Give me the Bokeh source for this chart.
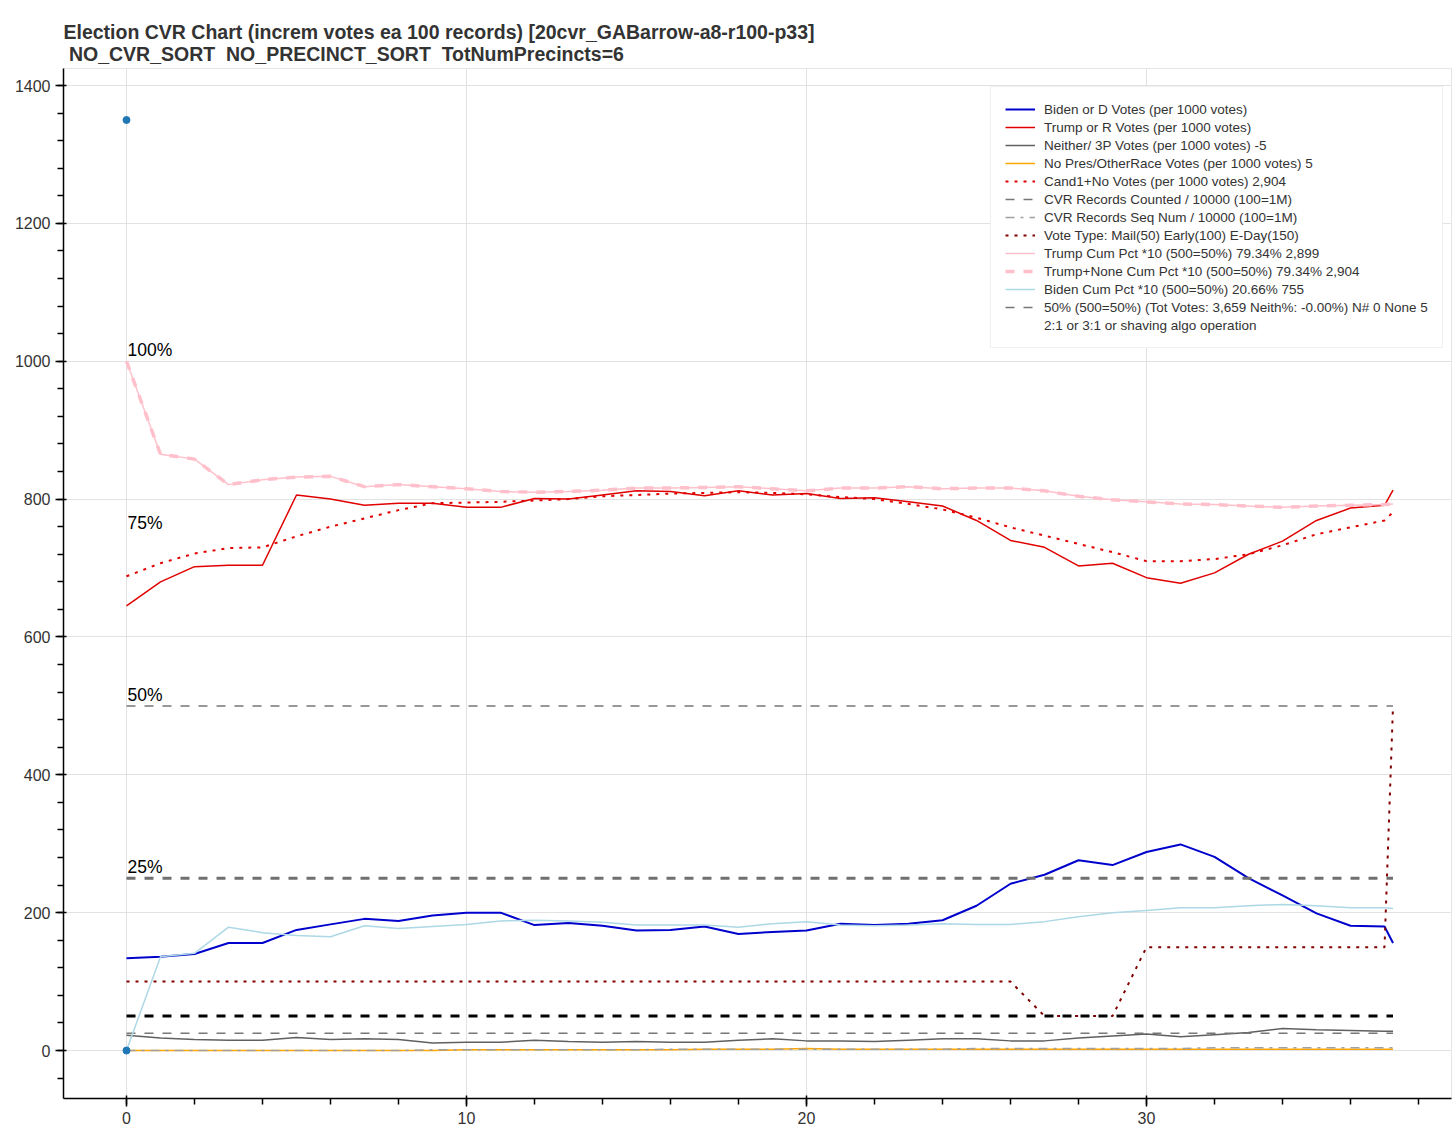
from bokeh.plotting import figure
from bokeh.models import SingleIntervalTicker, Range1d, Legend, LegendItem
from bokeh.core.properties import value
from bokeh.embed import file_html
from bokeh.resources import INLINE

# ---------------- data ----------------
x = [0, 1, 2, 3, 4, 5, 6, 7, 8, 9, 10, 11, 12, 13, 14, 15, 16, 17, 18, 19,
     20, 21, 22, 23, 24, 25, 26, 27, 28, 29, 30, 31, 32, 33, 34, 35, 36, 37, 37.25]

biden = [134, 136, 140, 156, 156, 175, 183, 191, 188, 196, 200, 200, 182, 185, 181, 174, 175, 180, 169, 172,
         174, 184, 182, 184, 189, 210, 242, 255, 276, 269, 288, 299, 281, 250, 225, 199, 181, 180, 156]
trump = [645, 680, 702, 704, 704, 806, 800, 791, 794, 794, 788, 788, 801, 800, 806, 812, 811, 805, 812, 806,
         808, 801, 802, 796, 790, 769, 740, 730, 703, 707, 686, 678, 693, 720, 739, 769, 787, 791, 813]
neither = [22, 18, 16, 15, 15, 19, 16, 17, 16, 11, 12, 12, 15, 13, 12, 13, 12, 12, 15, 17,
           14, 14, 13, 15, 17, 17, 14, 14, 18, 21, 24, 20, 23, 26, 32, 30, 29, 28, 28]
no_pres = [0, 0, 0, 0, 0, 0, 0, 0, 0, 0, 1, 1, 1, 1, 1, 1, 1, 2, 2, 2,
           3, 2, 2, 2, 2, 2, 2, 2, 2, 2, 2, 2, 2, 2, 2, 2, 2, 2, 2]
cand1_no = [688, 707, 721, 729, 730, 746, 760, 772, 784, 794, 795, 796, 798, 800, 804, 806, 808, 809, 810, 809,
            807, 803, 800, 793, 785, 773, 759, 747, 735, 723, 710, 710, 713, 720, 733, 749, 759, 769, 781]
seq_num = [0, 0, 0, 0, 0, 0, 0, 0, 0, 1, 1, 1, 1, 1, 1, 1, 2, 2, 2, 2,
           2, 2, 2, 2, 2, 3, 3, 3, 3, 3, 3, 3, 4, 4, 4, 4, 4, 4, 4]
vote_type = [100, 100, 100, 100, 100, 100, 100, 100, 100, 100, 100, 100, 100, 100, 100, 100, 100, 100, 100, 100,
             100, 100, 100, 100, 100, 100, 100, 50, 50, 50, 150, 150, 150, 150, 150, 150, 150, 150, 500]
trump_cum = [1000, 865, 858, 821, 828, 832, 833, 818, 821, 818, 815, 811, 810, 811, 813, 816, 816, 817, 818, 815,
             812, 816, 816, 818, 815, 816, 816, 812, 804, 799, 796, 793, 792, 790, 788, 790, 791, 792, 793]
trump_none_cum = [1000, 865, 858, 821, 828, 832, 833, 818, 821, 818, 815, 811, 810, 811, 813, 816, 816, 817, 818, 815,
                  812, 816, 816, 818, 815, 816, 816, 812, 804, 799, 796, 793, 792, 790, 788, 790, 791, 792, 793]
biden_cum = [0, 136, 141, 179, 171, 167, 165, 181, 177, 180, 183, 188, 189, 188, 186, 182, 182, 182, 179, 184,
             187, 182, 181, 182, 184, 183, 183, 187, 194, 200, 203, 207, 207, 210, 212, 210, 207, 207, 206]

records_counted_level = 25
half_level = 500
quarter_level = 250
mail_level = 50

pct_levels = [1000, 750, 500, 250]
pct_labels = ["100%", "75%", "50%", "25%"]

pts_x = [0, 0]
pts_y = [1350, 0]

labels = [
    "Biden or D Votes (per 1000 votes)",
    "Trump or R Votes (per 1000 votes)",
    "Neither/ 3P Votes (per 1000 votes) -5",
    "No Pres/OtherRace Votes (per 1000 votes) 5",
    "Cand1+No Votes (per 1000 votes) 2,904",
    "CVR Records Counted / 10000 (100=1M)",
    "CVR Records Seq Num / 10000 (100=1M)",
    "Vote Type: Mail(50) Early(100) E-Day(150)",
    "Trump Cum Pct *10 (500=50%) 79.34% 2,899",
    "Trump+None Cum Pct *10 (500=50%) 79.34% 2,904",
    "Biden Cum Pct *10 (500=50%) 20.66% 755",
    "50% (500=50%) (Tot Votes: 3,659 Neith%: -0.00%) N# 0 None 5",
    "2:1 or 3:1 or shaving algo operation",
]

title_text = ("Election CVR Chart (increm votes ea 100 records) [20cvr_GABarrow-a8-r100-p33]\n"
              "\u00a0NO_CVR_SORT \u00a0NO_PRECINCT_SORT \u00a0TotNumPrecincts=6")

FONT = "Liberation Sans"

# ---------------- figure ----------------
p = figure(frame_width=1388, frame_height=1030, output_backend="svg", toolbar_location=None,
           x_range=Range1d(-1.853, 38.97), y_range=Range1d(-69.6, 1424.7),
           min_border_left=63, min_border_right=2, min_border_top=68, min_border_bottom=0)

p.title.text = title_text
p.title.text_font = FONT
p.title.text_font_size = "19.5px"
p.title.text_font_style = "bold"
p.title.text_color = "#333333"
p.title.standoff = 7

for ax in (p.xaxis, p.yaxis):
    ax.major_label_text_font = FONT
    ax.major_label_text_font_size = "16px"
    ax.major_label_text_color = "#333333"
    ax.major_label_standoff = 5
    ax.axis_line_width = 1.5
    ax.major_tick_line_width = 1.5
    ax.minor_tick_line_width = 1.5
    ax.major_tick_out = 8
    ax.major_tick_in = 3
    ax.minor_tick_out = 6
    ax.minor_tick_in = 0
p.xaxis.ticker = SingleIntervalTicker(interval=10, num_minor_ticks=5)
p.yaxis.ticker = SingleIntervalTicker(interval=200, num_minor_ticks=5)
p.grid.grid_line_color = "#e2e2e2"

x0, x1 = x[0], x[-1]

r = []
r.append(p.line(x, biden, line_color="mediumblue", line_width=2))
r.append(p.line(x, trump, line_color="#e00000", line_width=1.5))
r.append(p.line(x, neither, line_color="#606060", line_width=1.5))
r.append(p.line(x, no_pres, line_color="orange", line_width=1.5))
r.append(p.line(x, cand1_no, line_color="#e00000", line_width=2, line_dash="3 6"))
r.append(p.line([x0, x1], [records_counted_level, records_counted_level], line_color="#777777",
                line_width=1.5, line_dash="9 9"))
r.append(p.line(x, seq_num, line_color="#a0a0a0", line_width=1.5, line_dash="9 6 3 6"))
r.append(p.line(x, vote_type, line_color="#800000", line_width=2, line_dash="3 6"))
r.append(p.line(x, trump_cum, line_color="pink", line_width=1.5))
r.append(p.line(x, trump_none_cum, line_color="pink", line_width=3.5, line_dash="9 9"))
r.append(p.line(x, biden_cum, line_color="lightblue", line_width=1.5))
r.append(p.line([x0, x1], [half_level, half_level], line_color="#777777", line_width=1.5, line_dash="9 9"))
r.append(p.line([x0, x1], [half_level, half_level], line_alpha=0))

p.line([x0, x1], [quarter_level, quarter_level], line_color="#707070", line_width=3, line_dash="9 9")
p.line([x0, x1], [mail_level, mail_level], line_color="black", line_width=3, line_dash="9 9")

p.scatter(pts_x, pts_y, size=7, color="#1f77b4")

p.text([x0] * len(pct_levels), pct_levels, text=pct_labels, text_font=value(FONT),
       text_font_size="17.5px", text_color="black", text_baseline="alphabetic", y_offset=-11, x_offset=1)

legend = Legend(items=[LegendItem(label=l, renderers=[rr]) for l, rr in zip(labels, r)],
                location=(927, 750))
legend.label_text_font = FONT
legend.label_text_font_size = "13.5px"
legend.label_text_color = "#333333"
legend.label_height = 16
legend.glyph_height = 16
legend.glyph_width = 30
legend.spacing = 2
legend.padding = 14
legend.label_standoff = 9
legend.border_line_color = "#e2e2e2"
legend.background_fill_alpha = 1.0
p.add_layout(legend)

open("out.html", "w").write(file_html(p, INLINE))
